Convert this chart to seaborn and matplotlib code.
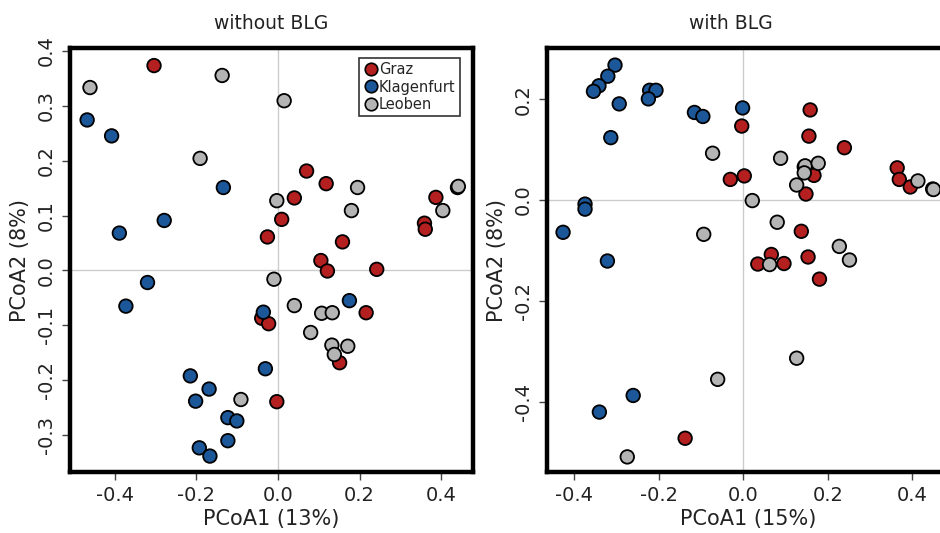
import numpy as np
import pandas as pd
import matplotlib
matplotlib.use("Agg")
import matplotlib.pyplot as plt
from matplotlib.lines import Line2D
import seaborn as sns

# --- PCoA coordinates, panel "without BLG" ---
wo_graz_x = [-0.304, -0.026, 0.070, 0.118, 0.040, 0.009, 0.387, 0.359, 0.361,
             0.158, 0.105, 0.121, 0.242, 0.216, -0.040, -0.023, 0.151, -0.003]
wo_graz_y = [0.373, 0.061, 0.181, 0.158, 0.132, 0.093, 0.133, 0.086, 0.075,
             0.052, 0.018, -0.001, 0.002, -0.077, -0.087, -0.097, -0.168, -0.239]
wo_klag_x = [-0.468, -0.408, -0.134, -0.279, -0.389, -0.320, -0.373, 0.175, -0.036,
             -0.031, -0.215, -0.169, -0.202, -0.123, -0.101, -0.123, -0.193, -0.167]
wo_klag_y = [0.274, 0.245, 0.151, 0.091, 0.068, -0.022, -0.065, -0.055, -0.076,
             -0.179, -0.192, -0.216, -0.238, -0.268, -0.274, -0.310, -0.323, -0.338]
wo_leob_x = [-0.461, -0.137, -0.191, 0.015, 0.195, -0.003, 0.180, 0.404, 0.440, 0.442,
             -0.010, 0.040, 0.107, 0.133, 0.080, 0.132, 0.171, 0.138, -0.091]
wo_leob_y = [0.333, 0.355, 0.204, 0.309, 0.151, 0.127, 0.109, 0.109, 0.151, 0.153,
             -0.016, -0.064, -0.078, -0.077, -0.113, -0.136, -0.138, -0.153, -0.235]

# --- PCoA coordinates, panel "with BLG" ---
w_graz_x = [-0.031, -0.004, 0.158, 0.155, 0.239, 0.167, 0.148, 0.002, 0.364,
            0.369, 0.395, 0.137, 0.066, 0.034, 0.096, 0.153, 0.180, -0.138]
w_graz_y = [0.041, 0.147, 0.179, 0.127, 0.104, 0.049, 0.012, 0.048, 0.064,
            0.041, 0.026, -0.062, -0.108, -0.127, -0.126, -0.113, -0.157, -0.473]
w_klag_x = [-0.304, -0.321, -0.342, -0.355, -0.294, -0.222, -0.207, -0.225, -0.314,
            -0.116, -0.096, -0.375, -0.375, -0.427, -0.322, -0.002, -0.261, -0.341]
w_klag_y = [0.268, 0.246, 0.227, 0.216, 0.191, 0.218, 0.218, 0.201, 0.124,
            0.174, 0.166, -0.008, -0.018, -0.064, -0.121, 0.183, -0.388, -0.421]
w_leob_x = [-0.073, -0.094, 0.088, 0.144, 0.146, 0.177, 0.144, 0.126, 0.021, 0.413,
            0.448, 0.450, 0.080, 0.227, 0.251, 0.062, 0.126, -0.061, -0.275]
w_leob_y = [0.093, -0.068, 0.083, 0.066, 0.068, 0.073, 0.054, 0.030, -0.001, 0.038,
            0.022, 0.021, -0.044, -0.092, -0.119, -0.128, -0.314, -0.356, -0.510]

sites = ["Graz", "Klagenfurt", "Leoben"]
colors = ["#b3201f", "#1b5799", "#b4b4b4"]
palette = dict(zip(sites, colors))


def frame(gx, gy, kx, ky, lx, ly):
    parts = []
    for site, xs, ys in zip(sites, [gx, kx, lx], [gy, ky, ly]):
        parts.append(pd.DataFrame({"PCoA1": xs, "PCoA2": ys, "site": site}))
    return pd.concat(parts, ignore_index=True)


df_wo = frame(wo_graz_x, wo_graz_y, wo_klag_x, wo_klag_y, wo_leob_x, wo_leob_y)
df_w = frame(w_graz_x, w_graz_y, w_klag_x, w_klag_y, w_leob_x, w_leob_y)

sns.set_style("white")
plt.rcParams["font.family"] = ["DejaVu Sans"]

fig = plt.figure(figsize=(9.40, 5.33), dpi=100)
ax1 = fig.add_axes([70 / 940, 61 / 533, 403 / 940, 424 / 533])
ax2 = fig.add_axes([547 / 940, 61 / 533, 403 / 940, 424 / 533])


def style(ax, df, xlim, ylim, yticks, xlabel, ylabel, title, title_x):
    ax.axhline(0, color="#cccccc", lw=1, zorder=0)
    ax.axvline(0, color="#cccccc", lw=1, zorder=0)
    sns.scatterplot(data=df, x="PCoA1", y="PCoA2", hue="site", hue_order=sites,
                    palette=palette, s=95, edgecolor="black", linewidth=1.3,
                    legend=False, ax=ax, zorder=3)
    ax.set_xlim(*xlim)
    ax.set_ylim(*ylim)
    ax.set_xticks([-0.4, -0.2, 0.0, 0.2, 0.4])
    ax.set_xticklabels([f"{v:.1f}" for v in [-0.4, -0.2, 0.0, 0.2, 0.4]])
    ax.set_yticks(yticks)
    ax.set_yticklabels([f"{v:.1f}" for v in yticks], rotation=90, va="center")
    ax.tick_params(axis="both", direction="out", length=6, width=1,
                   color="#444444", labelsize=14, labelcolor="#222222", pad=4)
    ax.tick_params(axis="both", which="both", bottom=True, left=True)
    for sp in ax.spines.values():
        sp.set_visible(True)
        sp.set_linewidth(3.2)
        sp.set_color("black")
    ax.set_xlabel(xlabel, fontsize=15, color="#222222", labelpad=3)
    ax.set_ylabel(ylabel, fontsize=15, color="#222222", labelpad=5)
    ax.set_title(title, fontsize=13.5, color="#222222", pad=14, x=title_x)


style(ax1, df_wo, (-0.51, 0.478), (-0.367, 0.405),
      [-0.3, -0.2, -0.1, 0.0, 0.1, 0.2, 0.3, 0.4],
      "PCoA1 (13%)", "PCoA2 (8%)", "without BLG", 0.5)
style(ax2, df_w, (-0.465, 0.489), (-0.540, 0.302),
      [-0.4, -0.2, 0.0, 0.2],
      "PCoA1 (15%)", "PCoA2 (8%)", "with BLG", (731 - 547) / 403)

handles = [Line2D([0], [0], marker="o", linestyle="", markersize=9,
                  markerfacecolor=c, markeredgecolor="black", markeredgewidth=1.2)
           for c in colors]
leg = ax1.legend(handles, sites, loc="upper right",
                 bbox_to_anchor=((460 - 70) / 403, (472 - 58) / 424),
                 frameon=True, fancybox=False, fontsize=10.5,
                 handletextpad=0.05, handlelength=1.0, borderpad=0.3,
                 labelspacing=0.15, borderaxespad=0)
leg.get_frame().set_edgecolor("black")
leg.get_frame().set_linewidth(1.2)
leg.set_zorder(5)

fig.savefig("out.png", dpi=100)
